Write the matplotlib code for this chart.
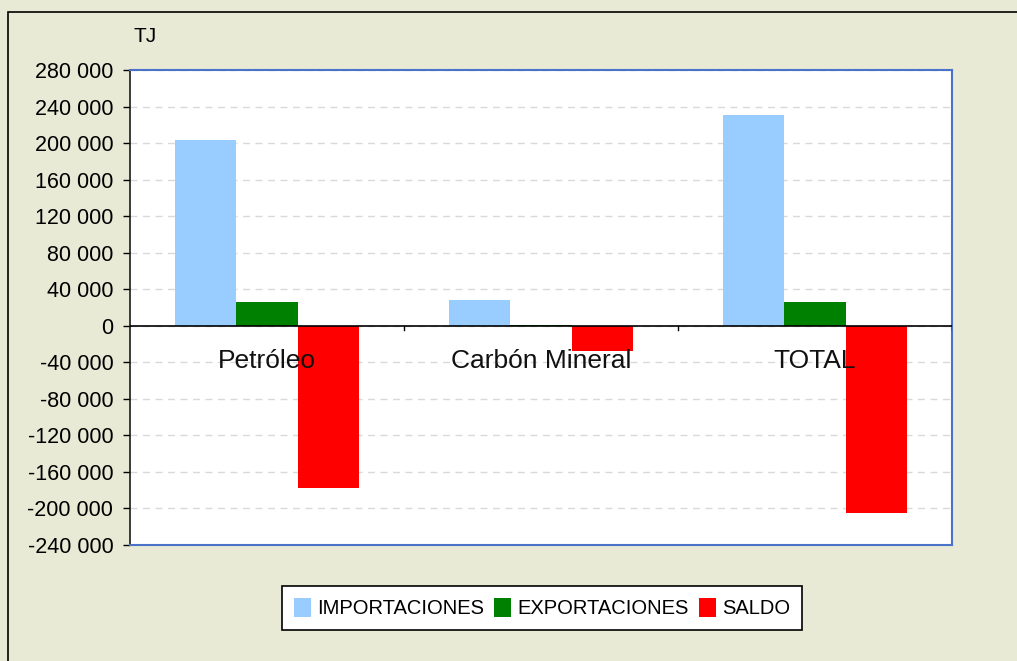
import matplotlib
matplotlib.use("Agg")
import matplotlib.pyplot as plt
import numpy as np
from matplotlib.patches import Rectangle
from matplotlib.ticker import FuncFormatter

plt.rcParams['font.family'] = ['Liberation Sans', 'DejaVu Sans']

categories = ["Petróleo", "Carbón Mineral", "TOTAL"]
series_names = ["IMPORTACIONES", "EXPORTACIONES", "SALDO"]
importaciones = [203000, 27800, 230500]
exportaciones = [25500, 300, 25500]
saldo = [-177500, -27500, -205000]
yticks = list(range(-240000, 280001, 40000))

colors = ["#99CCFF", "#008000", "#FF0000"]
bg = "#E8EAD6"
W, H = 1017, 661

fig = plt.figure(figsize=(W / 100, H / 100), dpi=100, facecolor=bg)
# outer frame
fig.patches.append(Rectangle((8 / W, -0.05), 1.1, 1 - 12 / H + 0.05,
                             transform=fig.transFigure, fill=False,
                             edgecolor="black", linewidth=1.2))

ax = fig.add_axes([130 / W, 1 - 545 / H, 822 / W, 475 / H])
ax.set_facecolor("white")

x = np.arange(len(categories))
bw = 0.223
for i, (vals, name) in enumerate(zip([importaciones, exportaciones, saldo], series_names)):
    ax.bar(x + (i - 1) * bw, vals, width=bw, color=colors[i], label=name, zorder=3)

ax.set_xlim(-0.5, len(categories) - 0.5)
ax.set_ylim(yticks[0], yticks[-1])
ax.set_yticks(yticks)
ax.yaxis.set_major_formatter(FuncFormatter(lambda v, p: f"{int(v):,}".replace(",", " ")))
ax.tick_params(axis='y', labelsize=15.5, length=5, pad=7, direction='out', width=1, color='black')
ax.set_xticks([])
ax.grid(axis='y', color='#d9d9d9', linestyle=(0, (5, 4)), linewidth=1, zorder=0)

for s in ['top', 'right', 'bottom']:
    ax.spines[s].set_color('#4A72C8')
    ax.spines[s].set_linewidth(1.5)
ax.spines['left'].set_color('#1a1a1a')
ax.spines['left'].set_linewidth(1.2)

# zero line and category boundary ticks
ax.axhline(0, color='black', linewidth=1.2, zorder=4)
for b in np.arange(0.5, len(categories), 1.0):
    ax.plot([b, b], [0, -5000], color='black', linewidth=1, zorder=4)

for xi, c in zip(x, categories):
    ax.text(xi, -39000, c, ha='center', va='center', fontsize=19, color='#111111', zorder=5)

fig.text(133 / W, 1 - 37 / H, "TJ", fontsize=15, ha='left', va='center')

leg = fig.legend(loc='center', bbox_to_anchor=(542 / W, 1 - 608 / H), ncol=3,
                 frameon=True, fontsize=14.5, handlelength=0.85, handleheight=1.1,
                 handletextpad=0.3, columnspacing=0.5, borderpad=0.6, fancybox=False)
leg.get_frame().set_edgecolor('black')
leg.get_frame().set_facecolor('white')
leg.get_frame().set_alpha(1)
leg.get_frame().set_linewidth(1.2)

fig.savefig("out.png", dpi=100, facecolor=bg)
